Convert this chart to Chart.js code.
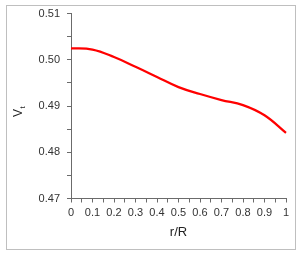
<!DOCTYPE html>
<html>
<head>
<meta charset="utf-8">
<script src="https://cdn.jsdelivr.net/npm/chart.js@4/dist/chart.umd.min.js"></script>
<style>
    html, body { margin: 0; padding: 0; background: #fff; }
    canvas { display: block; }
</style>
</head>
<body>
<canvas id="chart" width="300" height="264"></canvas>
<script>
// values
const radius = [0, 0.1, 0.2, 0.3, 0.4, 0.5, 0.6, 0.7, 0.8, 0.9, 1.0];
const vt = [0.5025, 0.5022, 0.5006, 0.4985, 0.4963, 0.4941, 0.4926, 0.4913, 0.4902, 0.4880, 0.4842];
const yMin = 0.47;
const yMax = 0.51;
const xTitle = 'r/R';

const tickFont = { family: 'Liberation Sans', size: 11 };
const axisColor = '#6b6b6b';

const frame = {
    id: 'frame',
    beforeDraw(chart) {
        const ctx = chart.ctx;
        ctx.save();
        ctx.fillStyle = '#fff';
        ctx.fillRect(0, 0, chart.width, chart.height);
        ctx.strokeStyle = '#bfbfbf';
        ctx.lineWidth = 1;
        ctx.strokeRect(6.5, 5.5, 289, 244);
        ctx.restore();
    },
    afterDraw(chart) {
        // y title: V with subscript t, rotated
        const ctx = chart.ctx;
        ctx.save();
        ctx.translate(22, 117);
        ctx.rotate(-Math.PI / 2);
        ctx.fillStyle = '#222';
        ctx.textBaseline = 'alphabetic';
        ctx.font = '12px "Liberation Sans"';
        ctx.fillText('V', 0, 0);
        const w = ctx.measureText('V').width;
        ctx.font = '8px "Liberation Sans"';
        ctx.fillText('t', w + 0.5, 3);
        ctx.restore();
    }
};

new Chart(document.getElementById('chart'), {
    type: 'line',
    data: {
        datasets: [{
            data: radius.map((r, i) => ({ x: r, y: vt[i] })),
            borderColor: '#ff0000',
            borderWidth: 2.25,
            pointRadius: 0,
            tension: 0.4,
            clip: false,
        }],
    },
    options: {
        responsive: false,
        animation: false,
        layout: { padding: { left: 0, top: 13, right: 14, bottom: 0 } },
        plugins: { legend: { display: false }, tooltip: { enabled: false } },
        scales: {
            x: {
                type: 'linear',
                min: 0,
                max: 1,
                afterFit: (s) => { s.height = 65.5; },
                border: { color: axisColor, width: 1 },
                grid: { drawOnChartArea: false, tickLength: 4, color: axisColor },
                ticks: {
                    stepSize: 0.05,
                    autoSkip: false,
                    maxRotation: 0,
                    padding: 4,
                    color: '#333',
                    font: tickFont,
                    callback: (v) => (Math.round(v * 100) % 10 === 0 ? String(Math.round(v * 10) / 10) : ''),
                },
                title: {
                    display: true,
                    text: xTitle,
                    color: '#222',
                    font: { family: 'Liberation Sans', size: 13 },
                    padding: { top: 0, bottom: 24 },
                },
            },
            y: {
                min: yMin,
                max: yMax,
                afterFit: (s) => { s.width = 71; },
                border: { color: axisColor, width: 1 },
                grid: { drawOnChartArea: false, tickLength: 4, color: axisColor },
                ticks: {
                    stepSize: 0.005,
                    autoSkip: false,
                    padding: 7,
                    color: '#333',
                    font: tickFont,
                    callback: (v) => (Math.round(v * 1000) % 10 === 0 ? v.toFixed(2) : ''),
                },
            },
        },
    },
    plugins: [frame],
});
</script>
</body>
</html>
